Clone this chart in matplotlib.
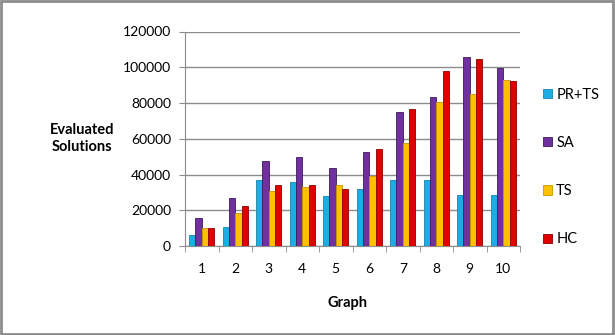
import matplotlib.pyplot as plt
import numpy as np
from matplotlib.patches import Rectangle

plt.rcParams['font.family'] = ['Lato', 'DejaVu Sans']

graphs = np.arange(1, 11)
series_names = ['PR+TS', 'SA', 'TS', 'HC']
pr_ts = [6000, 10800, 36800, 35900, 27900, 32000, 36800, 36800, 28700, 28700]
sa = [15600, 27000, 47400, 49900, 43400, 52500, 75000, 83200, 106000, 99700]
ts = [10000, 18200, 30900, 33100, 34400, 39100, 57700, 80400, 84800, 93000]
hc = [10000, 22100, 34400, 34400, 32000, 54000, 76700, 98000, 104400, 92300]
colors = ['#1CADE4', '#7030A0', '#FFC000', '#E00000']
edges = ['#1585b0', '#3d1a5a', '#c99600', '#8a0000']

fig = plt.figure(figsize=(6.15, 3.35), dpi=100)
ax = fig.add_axes([185 / 615, 89 / 335, 335 / 615, 214.5 / 335])

w = 0.19
for i, (vals, c, ec, name) in enumerate(zip([pr_ts, sa, ts, hc], colors, edges, series_names)):
    ax.bar(graphs + (i - 1.5) * w, vals, width=w, color=c, edgecolor=ec,
           linewidth=0.6, label=name, zorder=3)

ax.set_xlim(0.5, 10.5)
ax.set_ylim(0, 120000)
ax.set_yticks(np.arange(0, 120001, 20000))
ax.yaxis.grid(True, color='#8c8c8c', linewidth=1.0, zorder=0)
ax.set_xticks(graphs)
ax.set_xticks(np.arange(0.5, 11, 1), minor=True)
ax.tick_params(axis='x', which='major', length=0, labelsize=10, pad=12)
ax.tick_params(axis='x', which='minor', length=4, color='#8c8c8c')
ax.tick_params(axis='y', length=4, color='#8c8c8c', labelsize=10, pad=6)
for s in ['top', 'right']:
    ax.spines[s].set_visible(False)
for s in ['left', 'bottom']:
    ax.spines[s].set_color('#8c8c8c')

fig.text(82 / 615, 1 - 138.5 / 335, 'Evaluated\nSolutions', ha='center', va='center',
         fontsize=10.5, fontweight='bold', linespacing=1.35)
fig.text(347 / 615, 1 - 303 / 335, 'Graph', ha='center', va='center',
         fontsize=10.5, fontweight='bold')

handles, labels = ax.get_legend_handles_labels()
fig.legend(handles, labels, loc='center left', bbox_to_anchor=(530 / 615, 1 - 167 / 335),
           frameon=False, fontsize=10.5, handlelength=0.6, handleheight=0.6,
           handletextpad=0.3, labelspacing=2.35)

fig.patches.append(Rectangle((0.002, 0.003), 0.994, 0.994, transform=fig.transFigure,
                             fill=False, edgecolor='#8c8c8c', linewidth=2))

plt.savefig('out.png', dpi=100)
